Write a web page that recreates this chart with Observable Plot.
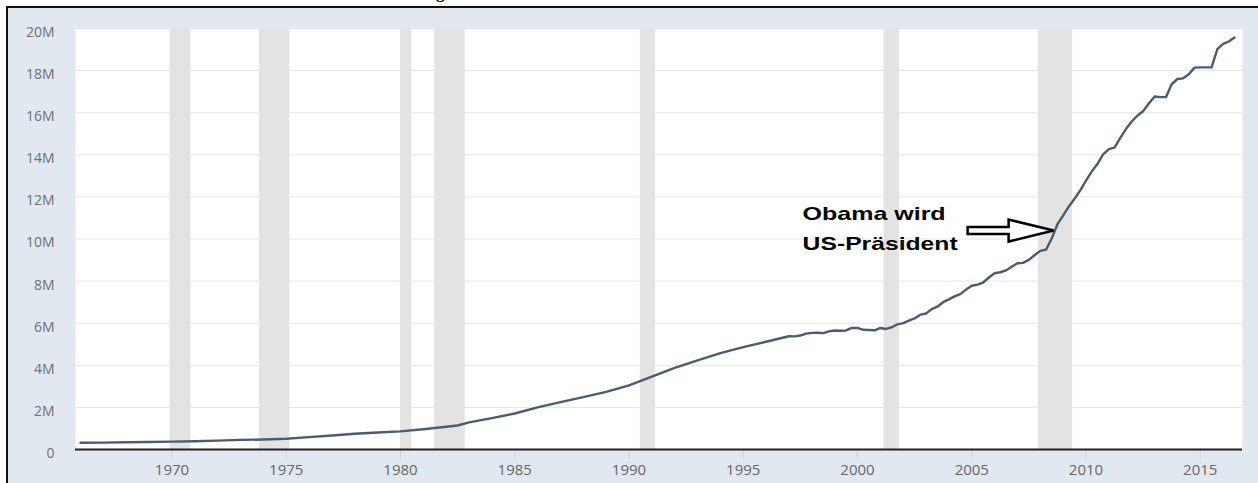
<!DOCTYPE html>
<html>
<head>
<meta charset="utf-8">
<script src="https://cdn.jsdelivr.net/npm/d3@7"></script>
<script src="https://cdn.jsdelivr.net/npm/@observablehq/plot@0.6"></script>
<style>
  html, body { margin: 0; padding: 0; background: #ffffff; width: 1258px; height: 483px; overflow: hidden; }
  #title { position: absolute; left: 352px; top: -16px; font: bold 17px "Liberation Serif", serif; line-height: 17px; white-space: nowrap; color: #000; }
  #frame { position: absolute; left: 6px; top: 6px; width: 1252px; height: 477px; border-top: 2px solid #111; border-left: 2px solid #111; background: #e1e8f0; }
  #chart { position: absolute; left: 0; top: 0; }
</style>
</head>
<body>
<div id="title">Entwicklung der Staatsschulden der USA, 1966–2016</div>
<div id="frame"><div id="chart"></div></div>
<script>
// Federal debt, total public debt (millions of dollars)
const dates = [
  "1966-01-01","1967-01-01","1968-01-01","1969-01-01","1970-01-01","1971-01-01","1972-01-01","1973-01-01",
  "1974-01-01","1975-01-01","1976-01-01","1977-01-01","1978-01-01","1979-01-01","1980-01-01","1981-01-01",
  "1982-01-01","1982-07-01","1983-01-01","1984-01-01","1985-01-01","1986-01-01","1987-01-01","1988-01-01",
  "1989-01-01","1990-01-01","1991-01-01","1992-01-01","1993-01-01","1994-01-01","1995-01-01","1996-01-01",
  "1997-01-01","1997-04-01","1997-07-01","1997-10-01",
  "1998-01-01","1998-04-01","1998-07-01","1998-10-01",
  "1999-01-01","1999-04-01","1999-07-01","1999-10-01",
  "2000-01-01","2000-04-01","2000-07-01","2000-10-01",
  "2001-01-01","2001-04-01","2001-07-01","2001-10-01",
  "2002-01-01","2002-04-01","2002-07-01","2002-10-01",
  "2003-01-01","2003-04-01","2003-07-01","2003-10-01",
  "2004-01-01","2004-04-01","2004-07-01","2004-10-01",
  "2005-01-01","2005-04-01","2005-07-01","2005-10-01",
  "2006-01-01","2006-04-01","2006-07-01","2006-10-01",
  "2007-01-01","2007-04-01","2007-07-01","2007-10-01",
  "2008-01-01","2008-04-01","2008-07-01","2008-10-01",
  "2009-01-01","2009-04-01","2009-07-01","2009-10-01",
  "2010-01-01","2010-04-01","2010-07-01","2010-10-01",
  "2011-01-01","2011-04-01","2011-07-01","2011-10-01",
  "2012-01-01","2012-04-01","2012-07-01","2012-10-01",
  "2013-01-01","2013-04-01","2013-07-01","2013-10-01",
  "2014-01-01","2014-04-01","2014-07-01","2014-10-01",
  "2015-01-01","2015-04-01","2015-07-01","2015-10-01",
  "2016-01-01","2016-04-01","2016-07-01"
];
const debt = [
  321000, 329000, 344000, 356000, 372000, 390000, 424000, 456000,
  474000, 509000, 588000, 668000, 745000, 805000, 863000, 964000,
  1080000, 1140000, 1290000, 1490000, 1710000, 2000000, 2250000, 2490000,
  2740000, 3050000, 3460000, 3880000, 4230000, 4580000, 4860000, 5120000,
  5380000, 5376000, 5413000, 5502000,
  5542000, 5548000, 5526000, 5614000,
  5651000, 5639000, 5656000, 5776000,
  5773000, 5686000, 5674000, 5662000,
  5773000, 5726000, 5807000, 5943000,
  6006000, 6126000, 6228000, 6405000,
  6460000, 6670000, 6783000, 6998000,
  7131000, 7274000, 7379000, 7596000,
  7777000, 7836000, 7933000, 8170000,
  8371000, 8420000, 8507000, 8680000,
  8849000, 8867000, 9008000, 9229000,
  9437000, 9492000, 10025000, 10700000,
  11127000, 11545000, 11910000, 12311000,
  12773000, 13202000, 13562000, 14025000,
  14271000, 14343000, 14790000, 15223000,
  15582000, 15856000, 16066000, 16433000,
  16771000, 16738000, 16738000, 17352000,
  17601000, 17633000, 17824000, 18141000,
  18152000, 18152000, 18151000, 19016000,
  19265000, 19382000, 19573000
];
// NBER recessions
const recessionStart = ["1969-12-01","1973-11-01","1980-01-01","1981-07-01","1990-07-01","2001-03-01","2007-12-01"];
const recessionEnd   = ["1970-11-01","1975-03-01","1980-07-01","1982-11-01","1991-03-01","2001-11-01","2009-06-01"];
// ticks
const xTickYears = [1970, 1975, 1980, 1985, 1990, 1995, 2000, 2005, 2010, 2015];
const yTicks = [0, 2000000, 4000000, 6000000, 8000000, 10000000, 12000000, 14000000, 16000000, 18000000, 20000000];
const yTickLabels = ["0","2M","4M","6M","8M","10M","12M","14M","16M","18M","20M"];
const xDomain = ["1965-10-12", "2016-11-06"];
// annotation
const annotationLines = ["Obama wird", "US-Präsident"];
const annotationDate = "2008-08-01";
const annotationValue = 10400000;

const series = dates.map((d, i) => ({date: new Date(d), value: debt[i]}));
const recessions = recessionStart.map((s, i) => ({start: new Date(s), end: new Date(recessionEnd[i])}));
const xTicks = xTickYears.map(y => new Date(Date.UTC(y, 0, 1)));
const anchor = [{date: new Date(annotationDate), value: annotationValue}];
const yLabel = new Map(yTicks.map((v, i) => [v, yTickLabels[i]]));

const blockArrow = {
  draw(ctx) {
    ctx.moveTo(0, 0);
    ctx.lineTo(-45, -11);
    ctx.lineTo(-45, -3.5);
    ctx.lineTo(-86, -3.5);
    ctx.lineTo(-86, 3.5);
    ctx.lineTo(-45, 3.5);
    ctx.lineTo(-45, 11);
    ctx.closePath();
  }
};

const chart = Plot.plot({
  width: 1250,
  height: 475,
  marginLeft: 67,
  marginRight: 16,
  marginTop: 20,
  marginBottom: 34,
  style: {background: "transparent", fontFamily: "'Open Sans', sans-serif", overflow: "visible"},
  x: {type: "utc", domain: xDomain.map(d => new Date(d))},
  y: {domain: [0, 20000000]},
  marks: [
    Plot.frame({fill: "#ffffff", stroke: null}),
    Plot.ruleY(yTicks.filter(v => v > 0), {stroke: "#e4e4e4", strokeWidth: 1}),
    Plot.rect(recessions, {x1: "start", x2: "end", fill: "#e3e3e3"}),
    Plot.axisX({ticks: xTicks, tickFormat: d3.utcFormat("%Y"), tickSize: 10, tickPadding: 5,
                stroke: "#d0d0d0", fill: "#666666", fontSize: 15, label: null}),
    Plot.axisY({ticks: yTicks, tickFormat: d => yLabel.get(d), tickSize: 0, tickPadding: 21,
                fill: "#707070", fontSize: 14, dy: 4, label: null}),
    Plot.ruleY([0], {stroke: "#222222", strokeWidth: 2}),
    Plot.line(series, {x: "date", y: "value", stroke: "#485d72", strokeWidth: 2.4, curve: "linear"}),
    Plot.dot(anchor, {x: "date", y: "value", symbol: blockArrow, r: 10, fill: "#ffffff", stroke: "#000000", strokeWidth: 2.5}),
    Plot.text(anchor, {x: "date", y: "value", text: () => annotationLines[0], textAnchor: "start",
                       dx: -251, dy: -17, fontSize: 19, fontWeight: "bold", fill: "#000000",
                       fontFamily: "'Liberation Sans', Arial, sans-serif"}),
    Plot.text(anchor, {x: "date", y: "value", text: () => annotationLines[1], textAnchor: "start",
                       dx: -251, dy: 13, fontSize: 19, fontWeight: "bold", fill: "#000000",
                       fontFamily: "'Liberation Sans', Arial, sans-serif"})
  ]
});

// horizontally stretched annotation, as in the reference
d3.select(chart).selectAll("text").each(function() {
  const t = this.textContent;
  if (t === annotationLines[0]) { this.setAttribute("textLength", 143); this.setAttribute("lengthAdjust", "spacingAndGlyphs"); }
  if (t === annotationLines[1]) { this.setAttribute("textLength", 155); this.setAttribute("lengthAdjust", "spacingAndGlyphs"); }
});

document.getElementById("chart").appendChild(chart);
</script>
</body>
</html>
